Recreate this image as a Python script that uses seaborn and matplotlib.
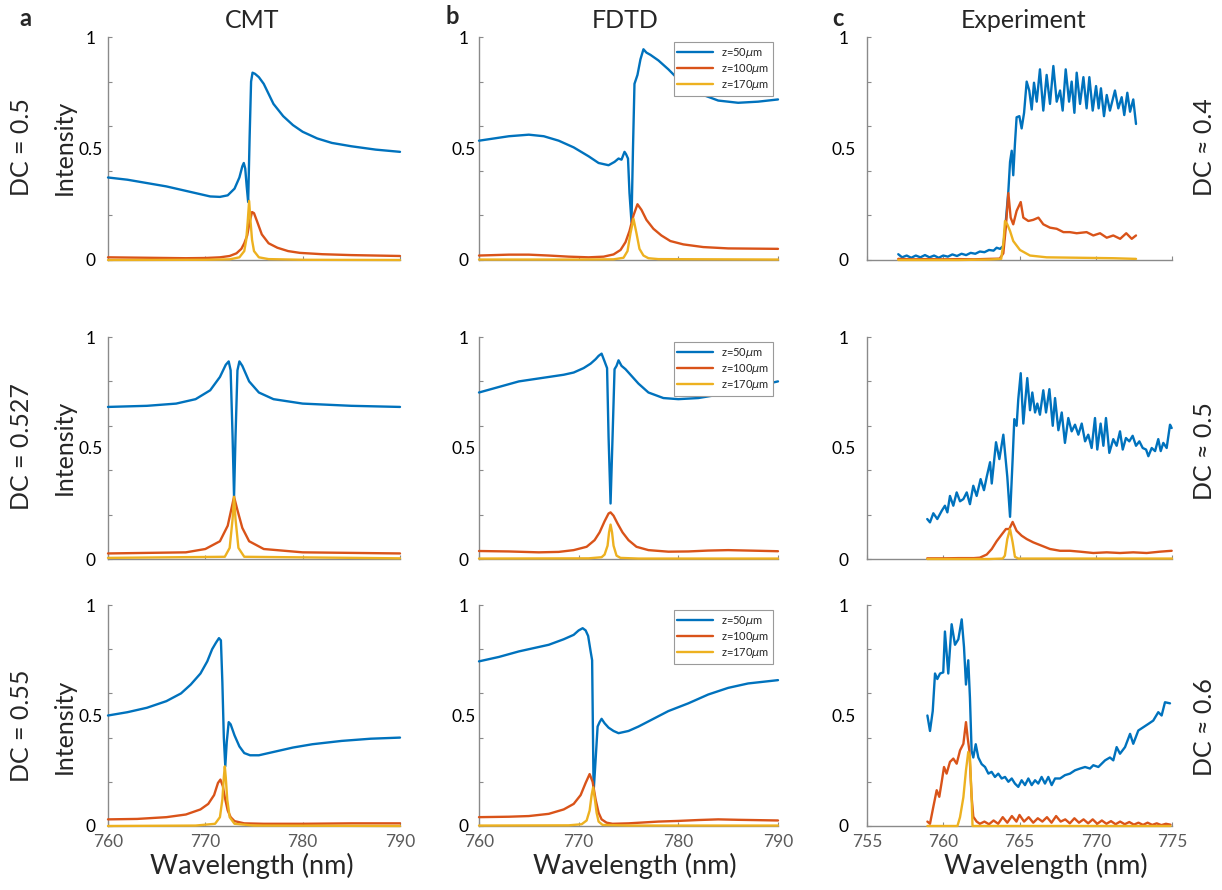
import matplotlib
matplotlib.use("Agg")
import matplotlib.pyplot as plt
import numpy as np
import pandas as pd
import seaborn as sns
from matplotlib.ticker import MultipleLocator, FixedLocator

# ---------------- data ----------------
# Column a: CMT
a1_blue_wl = [760, 762, 764, 766, 768, 769.5, 770.5, 771.5, 772.3, 773.0, 773.5, 773.8, 773.95, 774.1, 774.25, 774.4, 774.55, 774.7, 774.85, 775.1, 775.5, 776.0, 776.5, 777.0, 778.0, 779.0, 780.0, 781.5, 783.0, 785.0, 787.5, 790.0]
a1_blue_I = [0.37, 0.36, 0.345, 0.33, 0.31, 0.295, 0.285, 0.283, 0.29, 0.32, 0.37, 0.42, 0.435, 0.41, 0.33, 0.26, 0.55, 0.80, 0.84, 0.835, 0.82, 0.79, 0.745, 0.70, 0.645, 0.605, 0.575, 0.545, 0.525, 0.51, 0.495, 0.485]
a1_red_wl = [760, 764, 768, 770, 771.5, 772.5, 773.2, 773.7, 774.0, 774.3, 774.55, 774.8, 775.0, 775.3, 775.8, 776.5, 777.4, 778.5, 779.7, 782, 785, 790]
a1_red_I = [0.012, 0.010, 0.008, 0.009, 0.012, 0.018, 0.03, 0.05, 0.075, 0.11, 0.17, 0.215, 0.21, 0.175, 0.115, 0.075, 0.055, 0.04, 0.032, 0.026, 0.022, 0.018]
a1_yel_wl = [760, 770, 772.5, 773.5, 774.0, 774.2, 774.35, 774.5, 774.65, 774.8, 775.0, 775.5, 776.5, 780, 790]
a1_yel_I = [0.0, 0.001, 0.003, 0.012, 0.04, 0.09, 0.17, 0.265, 0.17, 0.09, 0.04, 0.012, 0.004, 0.001, 0.0]

a2_blue_wl = [760, 764, 767, 769, 770.5, 771.5, 772.1, 772.4, 772.6, 772.8, 772.95, 773.1, 773.3, 773.5, 773.8, 774.5, 775.5, 777, 780, 785, 790]
a2_blue_I = [0.685, 0.69, 0.70, 0.72, 0.76, 0.82, 0.875, 0.89, 0.85, 0.55, 0.28, 0.55, 0.85, 0.89, 0.87, 0.80, 0.75, 0.72, 0.70, 0.69, 0.685]
a2_red_wl = [760, 768, 770, 771.5, 772.3, 772.7, 772.95, 773.3, 773.8, 774.5, 776, 780, 790]
a2_red_I = [0.025, 0.03, 0.045, 0.08, 0.15, 0.23, 0.28, 0.22, 0.14, 0.08, 0.045, 0.03, 0.025]
a2_yel_wl = [760, 772, 772.5, 772.8, 772.95, 773.1, 773.4, 774, 790]
a2_yel_I = [0.005, 0.01, 0.05, 0.18, 0.28, 0.18, 0.05, 0.01, 0.003]

a3_blue_wl = [760, 762, 764, 766, 767.5, 768.5, 769.5, 770.2, 770.7, 771.1, 771.4, 771.6, 771.75, 771.9, 772.05, 772.2, 772.4, 772.6, 773.0, 773.5, 774.0, 774.6, 775.5, 777, 779, 781, 784, 787, 790]
a3_blue_I = [0.50, 0.515, 0.535, 0.565, 0.60, 0.64, 0.69, 0.745, 0.80, 0.83, 0.85, 0.84, 0.65, 0.40, 0.27, 0.38, 0.47, 0.46, 0.41, 0.36, 0.33, 0.32, 0.32, 0.335, 0.355, 0.37, 0.385, 0.395, 0.40]
a3_red_wl = [760, 763, 766, 768, 769.5, 770.3, 770.9, 771.3, 771.55, 771.8, 772.0, 772.3, 772.6, 773.0, 774, 776, 780, 785, 790]
a3_red_I = [0.03, 0.032, 0.04, 0.052, 0.075, 0.10, 0.14, 0.195, 0.21, 0.18, 0.13, 0.07, 0.04, 0.022, 0.012, 0.01, 0.01, 0.012, 0.012]
a3_yel_wl = [760, 769, 771.0, 771.5, 771.75, 771.9, 772.0, 772.1, 772.25, 772.5, 773.0, 775, 790]
a3_yel_I = [0.0, 0.002, 0.01, 0.04, 0.12, 0.22, 0.27, 0.22, 0.12, 0.04, 0.01, 0.002, 0.0]

# Column b: FDTD
b1_blue_wl = [760, 761.5, 763, 765, 766.5, 768, 769.5, 771, 772, 773, 773.6, 774.0, 774.3, 774.6, 774.75, 774.95, 775.1, 775.3, 775.45, 775.6, 775.9, 776.2, 776.5, 776.8, 777.2, 778, 779, 780, 781, 782.5, 784, 786, 788, 790]
b1_blue_I = [0.535, 0.545, 0.555, 0.562, 0.555, 0.535, 0.505, 0.465, 0.435, 0.425, 0.44, 0.455, 0.45, 0.485, 0.475, 0.455, 0.30, 0.17, 0.50, 0.79, 0.83, 0.90, 0.945, 0.93, 0.92, 0.895, 0.855, 0.81, 0.775, 0.74, 0.715, 0.705, 0.71, 0.72]
b1_red_wl = [760, 763, 765, 767, 769, 771, 772.5, 773.5, 774.2, 774.7, 775.1, 775.5, 775.9, 776.3, 776.8, 777.5, 778.3, 779.2, 780.5, 782.5, 785, 790]
b1_red_I = [0.02, 0.024, 0.024, 0.02, 0.015, 0.012, 0.015, 0.025, 0.045, 0.08, 0.13, 0.20, 0.25, 0.225, 0.18, 0.14, 0.11, 0.085, 0.07, 0.058, 0.052, 0.05]
b1_yel_wl = [760, 770, 773.5, 774.5, 774.9, 775.2, 775.5, 775.8, 776.1, 776.5, 777, 778, 790]
b1_yel_I = [0.002, 0.002, 0.003, 0.01, 0.04, 0.12, 0.185, 0.12, 0.05, 0.02, 0.008, 0.004, 0.002]

b2_blue_wl = [760, 762, 764, 765.5, 767, 768.5, 769.5, 770.5, 771.2, 771.7, 772.0, 772.3, 772.6, 772.85, 773.0, 773.2, 773.4, 773.6, 773.8, 774.0, 774.3, 774.7, 775.2, 776, 777, 778.5, 780, 782, 784, 786, 788, 790]
b2_blue_I = [0.75, 0.775, 0.80, 0.81, 0.82, 0.83, 0.84, 0.86, 0.88, 0.90, 0.915, 0.925, 0.89, 0.86, 0.55, 0.25, 0.55, 0.855, 0.87, 0.895, 0.87, 0.855, 0.83, 0.79, 0.75, 0.725, 0.72, 0.725, 0.74, 0.76, 0.78, 0.80]
b2_red_wl = [760, 763, 766, 768, 769.5, 770.8, 771.6, 772.1, 772.6, 773.0, 773.2, 773.5, 773.9, 774.4, 775.0, 775.8, 777, 779, 781, 783, 785, 787, 790]
b2_red_I = [0.036, 0.034, 0.03, 0.032, 0.04, 0.055, 0.085, 0.12, 0.17, 0.205, 0.21, 0.195, 0.16, 0.12, 0.085, 0.055, 0.04, 0.033, 0.034, 0.038, 0.04, 0.038, 0.035]
b2_yel_wl = [760, 771, 772.3, 772.6, 772.9, 773.05, 773.2, 773.35, 773.5, 773.8, 774.2, 776, 790]
b2_yel_I = [0.002, 0.003, 0.008, 0.02, 0.06, 0.12, 0.155, 0.12, 0.06, 0.015, 0.005, 0.002, 0.002]

b3_blue_wl = [760, 762, 764, 765.5, 767, 768.5, 769.5, 770.0, 770.4, 770.7, 770.95, 771.2, 771.35, 771.5, 771.7, 771.9, 772.1, 772.3, 772.6, 773.0, 773.5, 774.0, 775, 776, 777.5, 779, 781, 783, 785, 787, 790]
b3_blue_I = [0.745, 0.765, 0.79, 0.805, 0.82, 0.845, 0.865, 0.885, 0.895, 0.885, 0.86, 0.79, 0.75, 0.155, 0.30, 0.45, 0.47, 0.485, 0.465, 0.445, 0.43, 0.42, 0.43, 0.45, 0.485, 0.52, 0.555, 0.595, 0.625, 0.645, 0.66]
b3_red_wl = [760, 763, 765, 767, 768.5, 769.5, 770.2, 770.7, 771.1, 771.4, 771.7, 772.0, 772.3, 772.8, 773.4, 775, 778, 780, 782, 784, 786, 790]
b3_red_I = [0.04, 0.042, 0.045, 0.055, 0.075, 0.10, 0.14, 0.195, 0.235, 0.20, 0.12, 0.06, 0.03, 0.015, 0.01, 0.012, 0.02, 0.023, 0.027, 0.03, 0.028, 0.025]
b3_yel_wl = [760, 769, 770.3, 770.8, 771.1, 771.3, 771.45, 771.6, 771.8, 772.0, 772.4, 775, 790]
b3_yel_I = [0.002, 0.003, 0.008, 0.025, 0.07, 0.14, 0.175, 0.13, 0.06, 0.02, 0.005, 0.002, 0.002]

# Column c: Experiment
c1_blue_wl = [757.05, 757.3, 757.6, 757.9, 758.2, 758.5, 758.8, 759.1, 759.4, 759.7, 760.0, 760.3, 760.6, 760.9, 761.2, 761.5, 761.8, 762.1, 762.4, 762.7, 763.0, 763.3, 763.5, 763.72, 763.94,
              764.11, 764.27, 764.38, 764.49, 764.59, 764.70, 764.81, 764.99, 765.14, 765.30, 765.47, 765.64, 765.80, 765.95, 766.13, 766.34, 766.56, 766.78, 767.0, 767.22,
              767.44, 767.66, 767.83, 768.03, 768.25, 768.42, 768.60, 768.75, 768.97, 769.19, 769.40, 769.58, 769.80, 770.02, 770.19, 770.34, 770.54, 770.72, 770.93, 771.26,
              771.48, 771.70, 771.87, 772.07, 772.25, 772.46, 772.64]
c1_blue_I = [0.026, 0.012, 0.02, 0.01, 0.02, 0.012, 0.022, 0.012, 0.02, 0.01, 0.02, 0.015, 0.025, 0.018, 0.028, 0.022, 0.032, 0.028, 0.038, 0.035, 0.045, 0.042, 0.055, 0.05, 0.063,
             0.18, 0.31, 0.44, 0.49, 0.38, 0.52, 0.64, 0.645, 0.59, 0.66, 0.80, 0.76, 0.675, 0.795, 0.71, 0.855, 0.67, 0.83, 0.70, 0.87,
             0.71, 0.76, 0.67, 0.855, 0.71, 0.80, 0.66, 0.84, 0.70, 0.82, 0.68, 0.82, 0.67, 0.78, 0.68, 0.77, 0.645, 0.74, 0.67, 0.76,
             0.68, 0.73, 0.65, 0.75, 0.665, 0.72, 0.61]
c1_red_wl = [757.05, 758, 759, 760, 761, 762, 763, 763.7, 763.94, 764.1, 764.27, 764.42, 764.59, 764.81, 765.08, 765.25, 765.58, 765.9, 766.24, 766.56, 767.0, 767.44, 767.88, 768.3, 768.75, 769.4, 769.84, 770.28, 770.72, 771.15, 771.6, 772.0, 772.36, 772.64]
c1_red_I = [0.005, 0.003, 0.004, 0.003, 0.004, 0.003, 0.005, 0.006, 0.03, 0.145, 0.30, 0.19, 0.16, 0.22, 0.26, 0.19, 0.175, 0.18, 0.19, 0.16, 0.145, 0.14, 0.125, 0.125, 0.12, 0.125, 0.11, 0.12, 0.10, 0.11, 0.095, 0.12, 0.095, 0.11]
c1_yel_wl = [757.05, 759, 761, 763, 763.8, 763.95, 764.05, 764.2, 764.38, 764.59, 765.03, 765.69, 766.78, 768.97, 771.15, 772.64]
c1_yel_I = [0.0, 0.0, 0.0, 0.002, 0.005, 0.08, 0.175, 0.16, 0.13, 0.085, 0.045, 0.02, 0.012, 0.01, 0.008, 0.005]

c2_blue_wl = [758.95, 759.13, 759.35, 759.61, 759.9, 760.11, 760.27, 760.44, 760.66, 760.88,
              761.10, 761.32, 761.54, 761.75, 761.97, 762.19, 762.45, 762.67, 762.85, 763.07,
              763.18, 763.46, 763.68, 763.94, 764.20, 764.38, 764.55, 764.66, 764.81, 764.92,
              765.08, 765.25, 765.51, 765.69, 765.84, 766.02, 766.17, 766.34, 766.56, 766.74,
              766.96, 767.18, 767.33, 767.55, 767.77, 767.98, 768.2, 768.42, 768.64, 768.86,
              769.08, 769.30, 769.51, 769.73, 769.95, 770.10, 770.32, 770.5, 770.67, 770.89,
              771.15, 771.37, 771.59, 771.77, 771.98, 772.2, 772.42, 772.64, 772.86, 773.08,
              773.30, 773.45, 773.67, 773.89, 774.10, 774.26, 774.43, 774.65, 774.87, 774.98]
c2_blue_I = [0.18, 0.165, 0.206, 0.18, 0.217, 0.24, 0.21, 0.284, 0.24, 0.30,
             0.26, 0.27, 0.30, 0.247, 0.33, 0.284, 0.36, 0.31, 0.37, 0.436,
             0.34, 0.526, 0.45, 0.56, 0.37, 0.19, 0.45, 0.63, 0.60, 0.72,
             0.837, 0.61, 0.815, 0.67, 0.75, 0.66, 0.70, 0.65, 0.76, 0.66,
             0.765, 0.60, 0.725, 0.58, 0.66, 0.523, 0.635, 0.575, 0.605, 0.56,
             0.61, 0.53, 0.56, 0.50, 0.635, 0.493, 0.61, 0.51, 0.635, 0.478,
             0.54, 0.51, 0.575, 0.493, 0.545, 0.53, 0.555, 0.51, 0.53, 0.50,
             0.493, 0.463, 0.50, 0.486, 0.54, 0.486, 0.523, 0.50, 0.605, 0.59]
c2_red_wl = [758.95, 760, 761, 762, 762.4, 762.85, 763.18, 763.5, 763.83, 764.11, 764.33, 764.55, 764.81, 765.14, 765.47, 765.9, 766.45, 767.0, 767.66, 768.31, 768.97, 769.84, 770.72, 771.59, 772.46, 773.34, 774.21, 774.98]
c2_red_I = [0.003, 0.003, 0.004, 0.004, 0.006, 0.02, 0.045, 0.08, 0.11, 0.135, 0.135, 0.167, 0.127, 0.105, 0.09, 0.075, 0.06, 0.045, 0.037, 0.037, 0.033, 0.027, 0.03, 0.027, 0.03, 0.027, 0.033, 0.037]
c2_yel_wl = [758.95, 761, 763, 763.9, 764.04, 764.2, 764.38, 764.55, 764.7, 764.92, 767, 770, 775]
c2_yel_I = [0.0, 0.0, 0.0, 0.002, 0.015, 0.09, 0.135, 0.075, 0.01, 0.002, 0.002, 0.002, 0.002]

c3_blue_wl = [758.96, 759.13, 759.31, 759.46, 759.61, 759.79, 760.0, 760.11, 760.33, 760.55,
              760.77, 760.99, 761.21, 761.36, 761.49, 761.64, 761.75, 761.86, 761.97, 762.13,
              762.30, 762.52, 762.74, 762.96, 763.17, 763.39, 763.61, 763.83, 764.05, 764.27,
              764.49, 764.70, 764.92, 765.14, 765.36, 765.58, 765.8, 766.02, 766.23, 766.45,
              766.67, 766.89, 767.11, 767.33, 767.66, 767.98, 768.31, 768.64, 768.97, 769.30,
              769.62, 769.84, 770.17, 770.39, 770.61, 770.93, 771.15, 771.37, 771.59, 771.92,
              772.25, 772.46, 772.79, 773.12, 773.45, 773.77, 774.10, 774.32, 774.54, 774.87]
c3_blue_I = [0.50, 0.43, 0.52, 0.69, 0.665, 0.69, 0.695, 0.88, 0.69, 0.913,
             0.82, 0.845, 0.935, 0.81, 0.64, 0.75, 0.58, 0.34, 0.31, 0.37,
             0.31, 0.28, 0.267, 0.237, 0.245, 0.222, 0.237, 0.215, 0.222, 0.20,
             0.215, 0.192, 0.177, 0.207, 0.185, 0.215, 0.185, 0.207, 0.192, 0.222,
             0.192, 0.222, 0.185, 0.215, 0.215, 0.23, 0.237, 0.252, 0.26, 0.267,
             0.26, 0.275, 0.267, 0.282, 0.297, 0.31, 0.297, 0.357, 0.327, 0.357,
             0.417, 0.372, 0.432, 0.447, 0.462, 0.477, 0.515, 0.50, 0.56, 0.555]
c3_red_wl = [758.96, 759.13, 759.35, 759.57, 759.74, 759.9, 760.05, 760.22, 760.44, 760.66,
             760.88, 761.10, 761.32, 761.49, 761.60, 761.71, 761.86, 761.97, 762.19, 762.4,
             762.7, 763.0, 763.3, 763.6, 763.9, 764.2, 764.5, 764.8, 765.0, 765.3,
             765.6, 765.9, 766.2, 766.5, 766.8, 767.1, 767.4, 767.7, 768.0, 768.3,
             768.6, 768.9, 769.2, 769.5, 769.8, 770.1, 770.4, 770.7, 771.0, 771.3,
             771.6, 771.9, 772.2, 772.5, 772.8, 773.1, 773.4, 773.7, 774.0, 774.3,
             774.6, 774.9]
c3_red_I = [0.02, 0.01, 0.087, 0.162, 0.132, 0.20, 0.267, 0.237, 0.29, 0.305,
            0.282, 0.342, 0.372, 0.47, 0.40, 0.342, 0.132, 0.042, 0.02, 0.01,
            0.02, 0.008, 0.025, 0.01, 0.04, 0.015, 0.045, 0.02, 0.05, 0.02,
            0.04, 0.015, 0.035, 0.02, 0.04, 0.015, 0.045, 0.02, 0.03, 0.012,
            0.035, 0.015, 0.03, 0.012, 0.03, 0.01, 0.025, 0.01, 0.022, 0.008,
            0.02, 0.008, 0.018, 0.006, 0.015, 0.005, 0.015, 0.005, 0.012, 0.004,
            0.01, 0.006]
c3_yel_wl = [758.96, 760, 760.93, 761.10, 761.32, 761.49, 761.64, 761.75, 761.86, 761.92, 763, 766, 770, 774.9]
c3_yel_I = [0.0, 0.0, 0.0, 0.04, 0.13, 0.252, 0.335, 0.31, 0.13, 0.0, 0.0, 0.0, 0.0, 0.0]

series_labels = ["z=50$\\mu$m", "z=100$\\mu$m", "z=170$\\mu$m"]
col_titles = ["CMT", "FDTD", "Experiment"]
col_letters = ["a", "b", "c"]
left_row_labels = ["DC = 0.5", "DC = 0.527", "DC = 0.55"]
right_row_labels = ["DC \u2248 0.4", "DC \u2248 0.5", "DC \u2248 0.6"]
x_ticks_sim = [760, 770, 780, 790]
x_ticks_exp = [755, 760, 765, 770, 775]

panel_data = {
    (0, 0): [(a1_blue_wl, a1_blue_I), (a1_red_wl, a1_red_I), (a1_yel_wl, a1_yel_I)],
    (1, 0): [(a2_blue_wl, a2_blue_I), (a2_red_wl, a2_red_I), (a2_yel_wl, a2_yel_I)],
    (2, 0): [(a3_blue_wl, a3_blue_I), (a3_red_wl, a3_red_I), (a3_yel_wl, a3_yel_I)],
    (0, 1): [(b1_blue_wl, b1_blue_I), (b1_red_wl, b1_red_I), (b1_yel_wl, b1_yel_I)],
    (1, 1): [(b2_blue_wl, b2_blue_I), (b2_red_wl, b2_red_I), (b2_yel_wl, b2_yel_I)],
    (2, 1): [(b3_blue_wl, b3_blue_I), (b3_red_wl, b3_red_I), (b3_yel_wl, b3_yel_I)],
    (0, 2): [(c1_blue_wl, c1_blue_I), (c1_red_wl, c1_red_I), (c1_yel_wl, c1_yel_I)],
    (1, 2): [(c2_blue_wl, c2_blue_I), (c2_red_wl, c2_red_I), (c2_yel_wl, c2_yel_I)],
    (2, 2): [(c3_blue_wl, c3_blue_I), (c3_red_wl, c3_red_I), (c3_yel_wl, c3_yel_I)],
}

# ---------------- style ----------------
sns.set_theme(style="white")
plt.rcParams["font.family"] = ["Lato", "DejaVu Sans"]
plt.rcParams["mathtext.fontset"] = "dejavusans"

COLORS = ["#0072BD", "#D95319", "#EDB120"]
GRAY = "#8a8a8a"
W, H = 1222, 890
fig = plt.figure(figsize=(W / 100, H / 100), dpi=100)

col_px = [(108, 400), (479, 778), (867, 1172)]
row_px = [(37, 260), (337, 559), (605, 826)]
ylab_pad = [12.5, 11, 17]

for (r, c), series in panel_data.items():
    x0, x1 = col_px[c]
    y0, y1 = row_px[r]
    ax = fig.add_axes([x0 / W, 1 - y1 / H, (x1 - x0) / W, (y1 - y0) / H])
    frames = []
    for (wl, inten), lab in zip(series, series_labels):
        frames.append(pd.DataFrame({"wl": wl, "I": inten, "series": lab}))
    df = pd.concat(frames, ignore_index=True)
    sns.lineplot(data=df, x="wl", y="I", hue="series", hue_order=series_labels,
                 palette=COLORS, estimator=None, sort=False, linewidth=1.7,
                 legend=False, ax=ax, zorder=3, clip_on=False)
    if c == 2:
        ax.set_xlim(755, 775)
        ax.xaxis.set_major_locator(FixedLocator(x_ticks_exp))
    else:
        ax.set_xlim(760, 790)
        ax.xaxis.set_major_locator(FixedLocator(x_ticks_sim))
    ax.set_ylim(0, 1)
    ax.set_xlabel("")
    ax.set_ylabel("")
    for s in ["top", "right"]:
        ax.spines[s].set_visible(False)
    for s in ["left", "bottom"]:
        ax.spines[s].set_color(GRAY)
        ax.spines[s].set_linewidth(1.0)
    ax.yaxis.set_major_locator(FixedLocator([0, 0.5, 1]))
    ax.set_yticklabels(["0", "0.5", "1"])
    ax.yaxis.set_minor_locator(MultipleLocator(0.2))
    ax.yaxis.remove_overlapping_locs = False
    ax.tick_params(axis="y", which="major", left=True, length=0, pad=ylab_pad[c],
                   labelsize=12.5, labelcolor="black")
    ax.tick_params(axis="y", which="minor", left=True, direction="in", length=3,
                   width=0.8, color=GRAY)
    for lbl in ax.get_yticklabels():
        lbl.set_horizontalalignment("center")
    ax.tick_params(axis="x", which="major", bottom=True, direction="in", length=3,
                   width=0.8, color=GRAY, labelsize=12.5, labelcolor="#5a5a5a", pad=6,
                   labelbottom=(r == 2))
    ax.grid(False)
    ax.set_facecolor("none")
    if c == 1:
        leg = ax.legend(ax.get_lines()[:3], series_labels, loc="upper right",
                        fontsize=8, frameon=True, fancybox=False, framealpha=1,
                        edgecolor="#9a9a9a", borderaxespad=0.45, handlelength=3.2,
                        borderpad=0.35, labelspacing=0.2, handletextpad=0.7)
        leg.get_frame().set_linewidth(0.8)
        leg.set_zorder(5)

def ftext(x, y, s, **kw):
    fig.text(x / W, 1 - y / H, s, ha="center", va="center", **kw)

for c in range(3):
    ftext([25, 452, 838][c], [18, 17, 19][c], col_letters[c], fontsize=17, fontweight="bold")
    ftext([252, 625, 1024][c], 21, col_titles[c], fontsize=18)
    ftext([252, 635, 1046][c], 866, "Wavelength (nm)", fontsize=19.5)

for r in range(3):
    yc = [147, 447, 726][r]
    ftext(22, yc, left_row_labels[r], fontsize=18, rotation=90)
    ftext(64, yc, "Intensity", fontsize=18, rotation=90)
    ftext(1204, [147, 451, 727][r], right_row_labels[r], fontsize=18, rotation=90)

fig.savefig("out.png", dpi=100, facecolor="white")
